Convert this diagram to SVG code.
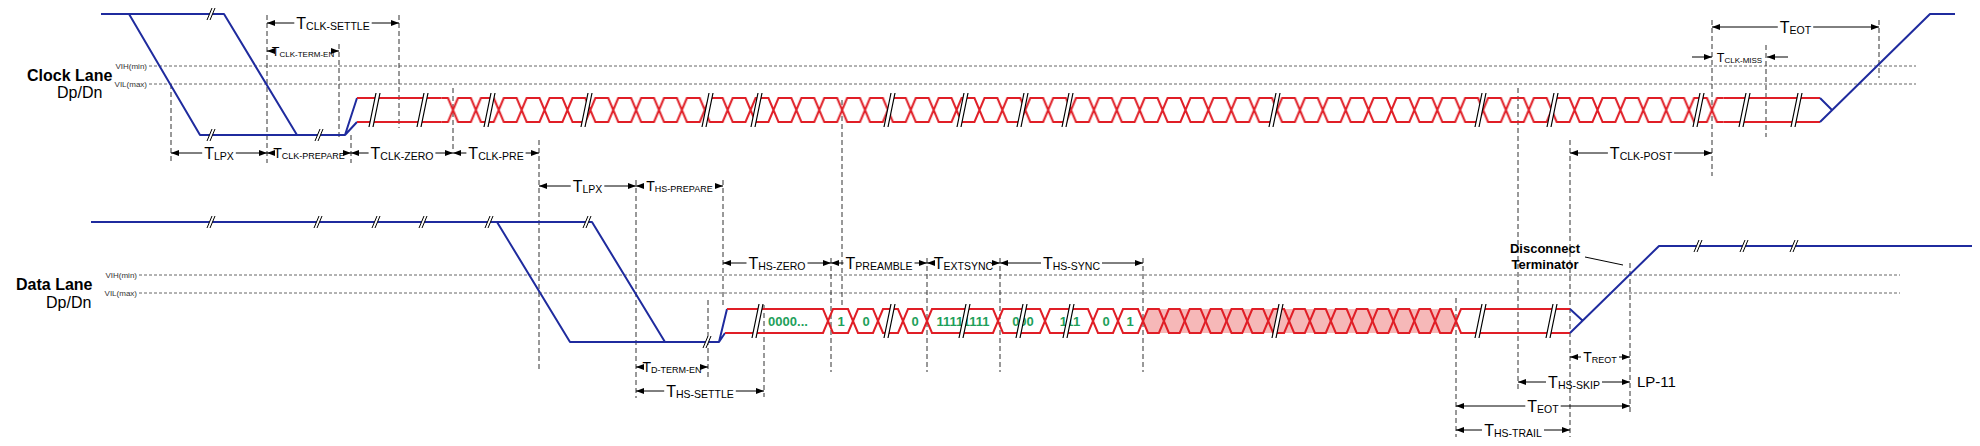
<svg xmlns="http://www.w3.org/2000/svg" width="1980" height="446" viewBox="0 0 1980 446">
<defs>
<style>
.lp{fill:none;stroke:#1f2b9e;stroke-width:2;stroke-linejoin:round}
.hs{fill:none;stroke:#e01e26;stroke-width:2}
.th{fill:none;stroke:#555;stroke-width:0.9;stroke-dasharray:3 2}
.vd{fill:none;stroke:#333;stroke-width:1;stroke-dasharray:5 3}
.one{fill:none;stroke:#000;stroke-width:1;marker-end:url(#ar)}
text{font-family:"Liberation Sans",Arial,Helvetica,sans-serif;fill:#000}
.lab{text-anchor:middle}
.L{font-size:16px}.L .s{font-size:10.5px}
.M{font-size:14px}.M .s{font-size:9px}
.S{font-size:12.5px}.S .s{font-size:8px}
.bit{font-size:13px;font-weight:bold;fill:#1ea05a;text-anchor:middle}
.lane{font-size:16px;font-weight:bold}
.dp{font-size:16px}
.vl{font-size:8px;fill:#333;text-anchor:end}
.note{font-size:13px;font-weight:bold;text-anchor:middle}
</style>
<marker id="ar" viewBox="0 0 8 6" refX="8" refY="3" markerWidth="8" markerHeight="6" markerUnits="userSpaceOnUse" orient="auto">
<path d="M0,0 L8,3 L0,6 Z" fill="#000"/>
</marker>
<g id="bh"><path d="M-6,17 L1,-17 L5,-17 L-2,17 Z" fill="#fff"/><path d="M-6,17 L1,-17 M-2,17 L5,-17" stroke="#000" stroke-width="1.2" fill="none"/></g>
<g id="bl"><path d="M-4,6 L1,-6 L4,-6 L-1,6 Z" fill="#fff"/><path d="M-4,6 L1,-6 M-1,6 L4,-6" stroke="#000" stroke-width="1" fill="none"/></g>
<pattern id="clkx" patternUnits="userSpaceOnUse" x="441.555" y="94" width="22.89" height="32">
<path d="M-1,4 H6.445 L16.445,28 H23.89 M-1,28 H6.445 L16.445,4 H23.89" fill="none" stroke="#e01e26" stroke-width="2"/>
</pattern>
</defs>
<rect width="1980" height="446" fill="#fff"/>

<g id="labels">
<text class="lane" x="27" y="80.5">Clock Lane</text>
<text class="dp" x="57" y="98">Dp/Dn</text>
<text class="lane" x="16" y="290">Data Lane</text>
<text class="dp" x="46" y="307.5">Dp/Dn</text>
<text class="vl" x="147" y="69">VIH(min)</text>
<text class="vl" x="147" y="87">VIL(max)</text>
<text class="vl" x="137" y="278">VIH(min)</text>
<text class="vl" x="137" y="296">VIL(max)</text>
</g>

<g id="thresholds">
<path class="th" d="M149,66 H1916 M149,84 H1916 M139,275 H1900 M139,293 H1900"/>
</g>

<g id="connectors">
<path class="vd" d="M171,84 V163 M267,15 V163 M339,44 V137 M351,135 V163 M399,15 V128 M453,88 V152 M539,140 V372 M842,100 V305 M1518,88 V392 M1570,140 V437 M1712,20 V176 M1766,45 V137 M1879,20 V78 M636,180 V398 M708,300 V378 M723,180 V308 M764,305 V397 M831,258 V372 M927,258 V372 M1000,258 V372 M1143,258 V372 M1456,298 V437 M1630,263 V413"/>
<path d="M1585,257 L1623,265" stroke="#000" stroke-width="1" fill="none"/>
</g>

<g id="clock-lane">
<path class="lp" d="M101,14 H224 L297,135"/>
<path class="lp" d="M129,14 L200,135 H345 L357,98 M345,135 L357,122"/>
<path class="hs" d="M357,98 H441.6 M357,122 H441.6 M1723.4,98 H1820 M1723.4,122 H1820"/>
<rect x="441.555" y="94" width="1281.84" height="32" fill="url(#clkx)"/>
<path class="lp" d="M1820,98 L1832,110 M1820,122 L1930,14 H1955"/>
<use href="#bl" x="211" y="14"/>
<use href="#bl" x="211" y="135"/>
<use href="#bl" x="319" y="135"/>
<use href="#bh" x="375" y="110"/>
<use href="#bh" x="423" y="110"/>
<use href="#bh" x="490" y="110"/>
<use href="#bh" x="587" y="110"/>
<use href="#bh" x="708" y="110"/>
<use href="#bh" x="757" y="110"/>
<use href="#bh" x="890" y="110"/>
<use href="#bh" x="963" y="110"/>
<use href="#bh" x="1023" y="110"/>
<use href="#bh" x="1068" y="110"/>
<use href="#bh" x="1275" y="110"/>
<use href="#bh" x="1481" y="110"/>
<use href="#bh" x="1553" y="110"/>
<use href="#bh" x="1699" y="110"/>
<use href="#bh" x="1745" y="110"/>
<use href="#bh" x="1797" y="110"/>
</g>

<g id="data-lane">
<path class="lp" d="M91,222 H592 L665,342"/>
<path class="lp" d="M497,222 L570,342 H719 L727,309 M719,342 L725,333"/>
<path d="M1143,321 L1148,309 H1451 L1456,321 L1451,333 H1148 Z" fill="#f6b8b8"/>
<path class="hs" d="M727,309 H823 L833,333 H848 L858,309 H873 L883,333 H898 L908,309 H922 L932,333 H993 L1003,309 H1040 L1050,333 H1088 L1098,309 H1113 L1123,333 H1138 L1148,309 H1158.9 L1168.9,333 H1179.7 L1189.7,309 H1200.6 L1210.6,333 H1221.5 L1231.5,309 H1242.3 L1252.3,333 H1263.2 L1273.2,309 H1284.1 L1294.1,333 H1304.9 L1314.9,309 H1325.8 L1335.8,333 H1346.7 L1356.7,309 H1367.5 L1377.5,333 H1388.4 L1398.4,309 H1409.3 L1419.3,333 H1430.1 L1440.1,309 H1451 L1461,333 H1570"/>
<path class="hs" d="M725,333 H823 L833,309 H848 L858,333 H873 L883,309 H898 L908,333 H922 L932,309 H993 L1003,333 H1040 L1050,309 H1088 L1098,333 H1113 L1123,309 H1138 L1148,333 H1158.9 L1168.9,309 H1179.7 L1189.7,333 H1200.6 L1210.6,309 H1221.5 L1231.5,333 H1242.3 L1252.3,309 H1263.2 L1273.2,333 H1284.1 L1294.1,309 H1304.9 L1314.9,333 H1325.8 L1335.8,309 H1346.7 L1356.7,333 H1367.5 L1377.5,309 H1388.4 L1398.4,333 H1409.3 L1419.3,309 H1430.1 L1440.1,333 H1451 L1461,309 H1570"/>
<path class="lp" d="M1570,309 L1583,321 M1570,333 L1659,246 H1972"/>
<text class="bit" x="788" y="325.5">0000...</text>
<text class="bit" x="841" y="325.5">1</text>
<text class="bit" x="866" y="325.5">0</text>
<text class="bit" x="915" y="325.5">0</text>
<text class="bit" x="963" y="325.5">11111111</text>
<text class="bit" x="1023" y="325.5">000</text>
<text class="bit" x="1070" y="325.5">111</text>
<text class="bit" x="1106" y="325.5">0</text>
<text class="bit" x="1130" y="325.5">1</text>
<use href="#bl" x="211" y="222"/>
<use href="#bl" x="318" y="222"/>
<use href="#bl" x="376" y="222"/>
<use href="#bl" x="423" y="222"/>
<use href="#bl" x="489" y="222"/>
<use href="#bl" x="587" y="222"/>
<use href="#bl" x="707" y="342"/>
<use href="#bl" x="1698" y="246"/>
<use href="#bl" x="1744" y="246"/>
<use href="#bl" x="1794" y="246"/>
<use href="#bh" x="758" y="321"/>
<use href="#bh" x="890" y="321"/>
<use href="#bh" x="965" y="321"/>
<use href="#bh" x="1022" y="321"/>
<use href="#bh" x="1069" y="321"/>
<use href="#bh" x="1278" y="321"/>
<use href="#bh" x="1481" y="321"/>
<use href="#bh" x="1552" y="321"/>
<text class="note" x="1545" y="253">Disconnect</text>
<text class="note" x="1545" y="269">Terminator</text>
<text x="1637" y="387" font-size="15">LP-11</text>
</g>

<g id="timing">
<path class="one" d="M294.3,23 H267"/><path class="one" d="M371.7,23 H399"/>
<text class="lab L" x="333" y="28.5">T<tspan class="s" dy="1">CLK-SETTLE</tspan></text>
<path class="one" d="M271.8,51 H267"/><path class="one" d="M334.2,51 H339"/>
<text class="lab S" x="303" y="55.5">T<tspan class="s" dy="1">CLK-TERM-EN</tspan></text>
<path class="one" d="M202.2,153 H171"/><path class="one" d="M235.8,153 H267"/>
<text class="lab L" x="219" y="158.5">T<tspan class="s" dy="1">LPX</tspan></text>
<path class="one" d="M272,153 H267"/><path class="one" d="M346,153 H351"/>
<text class="lab M" x="309" y="158">T<tspan class="s" dy="1">CLK-PREPARE</tspan></text>
<path class="one" d="M368.6,153 H351"/><path class="one" d="M435.4,153 H453"/>
<text class="lab L" x="402" y="158.5">T<tspan class="s" dy="1">CLK-ZERO</tspan></text>
<path class="one" d="M466.4,153 H453"/><path class="one" d="M525.6,153 H539"/>
<text class="lab L" x="496" y="158.5">T<tspan class="s" dy="1">CLK-PRE</tspan></text>
<path class="one" d="M1777.8,27 H1712"/><path class="one" d="M1813.2,27 H1879"/>
<text class="lab L" x="1795.5" y="32.5">T<tspan class="s" dy="1">EOT</tspan></text>
<path class="one" d="M1692,57 H1712"/><path class="one" d="M1788,57 H1767"/>
<text class="lab S" x="1739.5" y="61.5">T<tspan class="s" dy="1">CLK-MISS</tspan></text>
<path class="one" d="M1607.9,153 H1570"/><path class="one" d="M1674.1,153 H1712"/>
<text class="lab L" x="1641" y="158.5">T<tspan class="s" dy="1">CLK-POST</tspan></text>

<path class="one" d="M570.7,186 H539"/><path class="one" d="M604.3,186 H636"/>
<text class="lab L" x="587.5" y="191.5">T<tspan class="s" dy="1">LPX</tspan></text>
<path class="one" d="M644,186 H636"/><path class="one" d="M715,186 H723"/>
<text class="lab M" x="679.5" y="191">T<tspan class="s" dy="1">HS-PREPARE</tspan></text>
<path class="one" d="M746.5,263 H723"/><path class="one" d="M807.5,263 H831"/>
<text class="lab L" x="777" y="268.5">T<tspan class="s" dy="1">HS-ZERO</tspan></text>
<path class="one" d="M843.5,263 H831"/><path class="one" d="M914.5,263 H927"/>
<text class="lab L" x="879" y="268.5">T<tspan class="s" dy="1">PREAMBLE</tspan></text>
<path class="one" d="M933,263 H927"/><path class="one" d="M994,263 H1000"/>
<text class="lab L" x="963.5" y="268.5">T<tspan class="s" dy="1" font-size="10">EXTSYNC</tspan></text>
<path class="one" d="M1041,263 H1000"/><path class="one" d="M1102,263 H1143"/>
<text class="lab L" x="1071.5" y="268.5">T<tspan class="s" dy="1">HS-SYNC</tspan></text>
<path class="one" d="M642,367 H636"/><path class="one" d="M702,367 H708"/>
<text class="lab M" x="672" y="372" font-size="13">T<tspan class="s" dy="1" font-size="8.5">D-TERM-EN</tspan></text>
<path class="one" d="M664.2,391 H636"/><path class="one" d="M735.8,391 H764"/>
<text class="lab L" x="700" y="396.5">T<tspan class="s" dy="1">HS-SETTLE</tspan></text>
<path class="one" d="M1581,357 H1570"/><path class="one" d="M1619,357 H1630"/>
<text class="lab M" x="1600" y="362">T<tspan class="s" dy="1">REOT</tspan></text>
<path class="one" d="M1546,382 H1518"/><path class="one" d="M1602,382 H1630"/>
<text class="lab L" x="1574" y="387.5">T<tspan class="s" dy="1">HS-SKIP</tspan></text>
<path class="one" d="M1525.3,406 H1456"/><path class="one" d="M1560.7,406 H1630"/>
<text class="lab L" x="1543" y="411.5">T<tspan class="s" dy="1">EOT</tspan></text>
<path class="one" d="M1482,430 H1456"/><path class="one" d="M1544,430 H1570"/>
<text class="lab L" x="1513" y="435.5">T<tspan class="s" dy="1">HS-TRAIL</tspan></text>
</g>
</svg>
